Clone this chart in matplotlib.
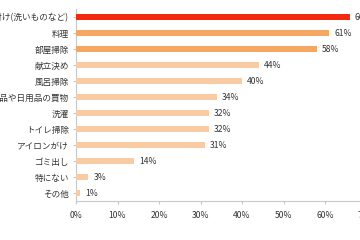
import matplotlib
matplotlib.use("Agg")
import matplotlib.pyplot as plt

plt.rcParams['font.family'] = ['Noto Sans CJK JP', 'DejaVu Sans']

categories = ["後片付け(洗いものなど)", "料理", "部屋掃除", "献立決め", "風呂掃除",
              "食料品や日用品の買物", "洗濯", "トイレ掃除", "アイロンがけ", "ゴミ出し",
              "特にない", "その他"]
values = [66, 61, 58, 44, 40, 34, 32, 32, 31, 14, 3, 1]
xticks = [0, 10, 20, 30, 40, 50, 60, 70]
colors = ["#F42A10", "#F5A661", "#F5A661"] + ["#F8CBA3"] * 9

fig = plt.figure(figsize=(3.6, 2.4), dpi=100)
ax = fig.add_axes([76/360, 1 - 201/240, 290.5/360, 192/240])
y = list(range(len(categories)))
ax.barh(y, values, height=0.42, color=colors, zorder=3)
for yi, v in zip(y, values):
    ax.text(v + 1.2, yi, f"{v}%", va='center', ha='left', fontsize=6.2, color='#333333')
ax.set_yticks(y)
ax.set_yticklabels(categories, fontsize=6.2, color='#333333')
ax.set_ylim(len(categories) - 0.5, -0.5)
ax.set_xlim(0, 70)
ax.set_xticks(xticks)
ax.set_xticklabels([f"{t}%" for t in xticks], fontsize=6.2, color='#333333')
for s in ['top', 'right']:
    ax.spines[s].set_visible(False)
for s in ['left', 'bottom']:
    ax.spines[s].set_color('#C8C8C8')
    ax.spines[s].set_linewidth(0.8)
ax.tick_params(axis='y', length=2, color='#C8C8C8', pad=3)
ax.tick_params(axis='x', length=2, color='#C8C8C8', pad=5)
fig.savefig("out.png", dpi=100)
